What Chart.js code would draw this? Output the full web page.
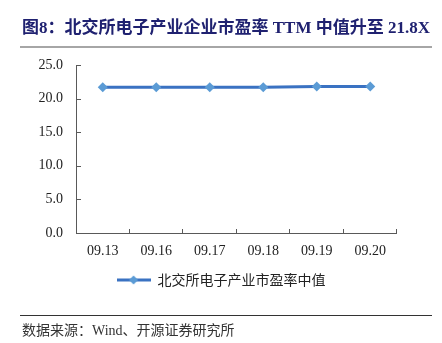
<!DOCTYPE html>
<html><head><meta charset="utf-8">
<script src="https://cdn.jsdelivr.net/npm/chart.js@4.4.0/dist/chart.umd.min.js"></script>
<style>
html,body{margin:0;padding:0;background:#fff;}
#wrap{position:relative;width:442px;height:343px;overflow:hidden;}
#c{position:absolute;left:0;top:0;}
#title{position:absolute;left:22px;top:13px;font:bold 17px "Liberation Serif","Noto Sans CJK SC",serif;color:#1F2170;white-space:nowrap;}
#tline{position:absolute;left:20px;top:46px;width:412px;height:2px;background:#A6A6A6;}
#sline{position:absolute;left:20px;top:315px;width:412px;height:1px;background:#333;}
#src{position:absolute;left:22px;top:319px;font:14px "Liberation Serif","Noto Sans CJK SC",serif;color:#333;white-space:nowrap;}
</style></head>
<body><div id="wrap">
<canvas id="c" width="442" height="343"></canvas>
<div id="title">图8：北交所电子产业企业市盈率 TTM 中值升至 21.8X</div>
<div id="tline"></div>
<div id="sline"></div>
<div id="src">数据来源：Wind、开源证券研究所</div>
</div>
<script>
const categories = ['09.13','09.16','09.17','09.18','09.19','09.20'];
const peMedian = [21.7, 21.7, 21.7, 21.7, 21.8, 21.8];
const seriesName = '北交所电子产业市盈率中值';
const yTicks = [0, 5, 10, 15, 20, 25];

const lineColor = '#3A72C2';
const markColor = '#5B9BD5';
const axisColor = '#595959';

const sym = document.createElement('canvas');
sym.width = 34; sym.height = 12;
(function(){
  const g = sym.getContext('2d');
  g.strokeStyle = lineColor; g.lineWidth = 3;
  g.beginPath(); g.moveTo(0,6); g.lineTo(34,6); g.stroke();
  g.fillStyle = markColor;
  g.beginPath(); g.moveTo(17,1.5); g.lineTo(21.5,6); g.lineTo(17,10.5); g.lineTo(12.5,6); g.closePath(); g.fill();
})();

const insideTicks = {
  id: 'insideTicks',
  afterDraw(chart) {
    const ctx = chart.ctx, ys = chart.scales.y, xs = chart.scales.x;
    ctx.save();
    ctx.strokeStyle = axisColor; ctx.lineWidth = 1;
    ctx.beginPath();
    ctx.moveTo(xs.left + 0.5, ys.top); ctx.lineTo(xs.left + 0.5, ys.bottom + 0.5);
    ctx.lineTo(xs.right, ys.bottom + 0.5);
    ctx.stroke();
    ctx.beginPath();
    ys.ticks.forEach((t, i) => {
      const y = Math.round(ys.getPixelForTick(i)) + 0.5;
      ctx.moveTo(xs.left, y); ctx.lineTo(xs.left + 5, y);
    });
    const n = categories.length;
    for (let k = 1; k <= n; k++) {
      const x = Math.round(xs.left + k * (xs.right - xs.left) / n) - 0.5;
      ctx.moveTo(x, ys.bottom); ctx.lineTo(x, ys.bottom - 4);
    }
    ctx.stroke();
    ctx.restore();
  }
};

new Chart(document.getElementById('c'), {
  type: 'line',
  data: {
    labels: categories,
    datasets: [{
      label: seriesName,
      data: peMedian,
      borderColor: lineColor,
      backgroundColor: markColor,
      borderWidth: 3,
      pointStyle: 'rectRot',
      pointRadius: 5,
      pointBorderWidth: 0,
      pointBackgroundColor: markColor,
      pointBorderColor: markColor,
      tension: 0
    }]
  },
  options: {
    responsive: false,
    animation: false,
    layout: { padding: { left: 0, right: 0, top: 65, bottom: 46 } },
    plugins: {
      tooltip: { enabled: false },
      legend: {
        position: 'bottom',
        labels: {
          color: '#222',
          font: { family: '"Noto Sans CJK SC", sans-serif', size: 14 },
          padding: 10,
          usePointStyle: true,
          pointStyleWidth: 34,
          generateLabels(chart) {
            return chart.data.datasets.map((d, i) => ({
              text: d.label, pointStyle: sym, datasetIndex: i,
              fillStyle: markColor, strokeStyle: lineColor, lineWidth: 0, fontColor: '#222'
            }));
          }
        }
      }
    },
    scales: {
      x: {
        offset: true,
        grid: { display: false, drawTicks: false },
        border: { display: false },
        ticks: { color: '#222', padding: 10, font: { family: '"Liberation Serif", serif', size: 14 } },
        afterFit(s) { s.height = 30; }
      },
      y: {
        min: 0, max: 25,
        afterBuildTicks(s) { s.ticks = yTicks.map(v => ({ value: v })); },
        grid: { display: false, drawTicks: false },
        border: { display: false },
        ticks: { color: '#222', padding: 13, font: { family: '"Liberation Serif", serif', size: 14 },
                 callback: v => Number(v).toFixed(1) },
        afterFit(s) { s.width = 76; }
      },
      yRight: {
        position: 'right',
        min: 0, max: 25,
        grid: { display: false, drawTicks: false },
        border: { display: false },
        ticks: { display: false },
        afterFit(s) { s.width = 45; }
      }
    }
  },
  plugins: [insideTicks]
});
</script>
</body></html>
